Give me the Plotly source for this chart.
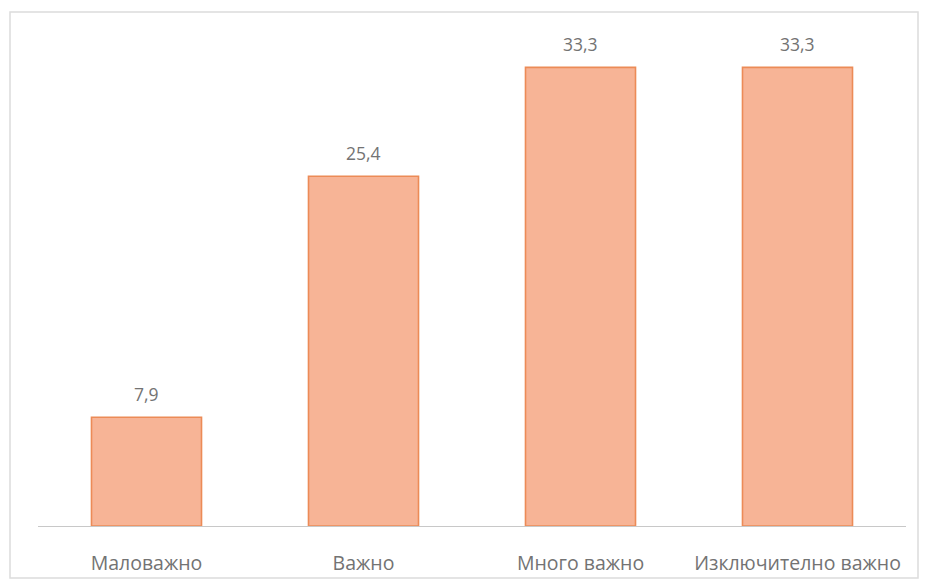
import plotly.graph_objects as go

categories = ["Маловажно", "Важно", "Много важно", "Изключително важно"]
values = [7.9, 25.4, 33.3, 33.3]
value_labels = ["7,9", "25,4", "33,3", "33,3"]

W, H = 930, 585
ml, mr, mt, mb = 38, 24, 44, 59
pw, ph = W - ml - mr, H - mt - mb

def px_x(x):
    return (x - ml) / pw

def px_y(y):
    return (H - mb - y) / ph

fig = go.Figure()
fig.add_trace(go.Bar(
    x=categories, y=values,
    width=0.507,
    marker=dict(color="#F7B496", line=dict(color="#EC8B57", width=1.6)),
    hoverinfo="skip",
))

for c, v, t in zip(categories, values, value_labels):
    fig.add_annotation(x=c, y=v, text=t, showarrow=False, yshift=23,
                       font=dict(family="Open Sans, Liberation Sans", size=17.5, color="#737373"))

fig.add_shape(type="rect", xref="paper", yref="paper",
              x0=px_x(10), x1=px_x(918), y0=px_y(578), y1=px_y(12),
              line=dict(color="#DCDCDC", width=1.5), fillcolor="rgba(0,0,0,0)", layer="below")

fig.update_layout(
    width=W, height=H,
    margin=dict(l=ml, r=mr, t=mt, b=mb, autoexpand=False),
    paper_bgcolor="white", plot_bgcolor="white",
    showlegend=False,
    bargap=0.49,
    font=dict(family="Open Sans, Liberation Sans", color="#737373"),
)
fig.update_xaxes(showline=True, linecolor="#C8C8C8", linewidth=1.2, automargin=False,
                 tickfont=dict(size=19.5, color="#737373"), ticks="", ticklabelstandoff=19,
                 showgrid=False)
fig.update_yaxes(range=[0, 35], visible=False, showgrid=False, zeroline=False, automargin=False)

fig.write_html("out.html", config={"displayModeBar": False},
               post_script="document.body.style.margin='0';document.body.style.overflow='hidden';")
